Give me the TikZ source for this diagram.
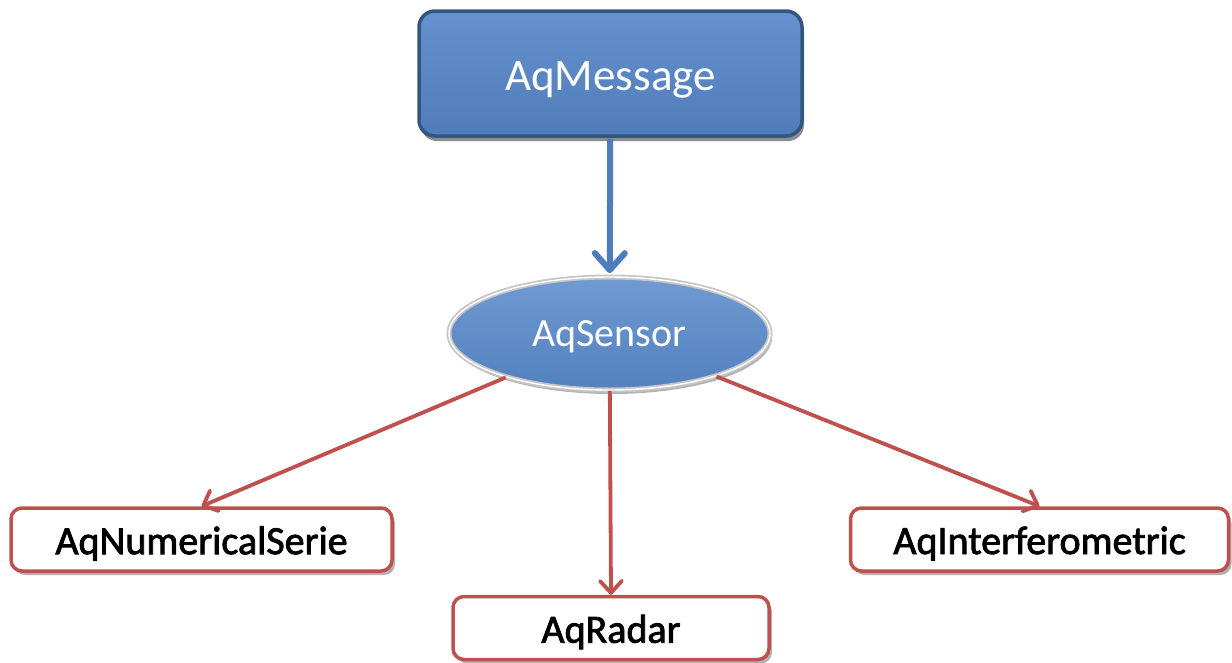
\documentclass[tikz,border=0pt]{standalone}
\usepackage{fontspec}
\setmainfont{Carlito}
\newfontfamily\childfont{Carlito}[FakeBold=2]
\usetikzlibrary{arrows.meta,shapes.geometric,shadows}
\definecolor{msgblue}{HTML}{5788C9}
\definecolor{msgedge}{HTML}{34557F}
\definecolor{arrowblue}{HTML}{4E7DBE}
\definecolor{linkred}{HTML}{C0504D}
% lower the printed text without changing the box size used for centring
\newcommand{\lowertext}[2]{\raisebox{-#1}[\height][\depth]{#2}}
\tikzset{
  parentbox/.style={draw=msgedge, line width=3.5pt, rounded corners=16pt,
    top color=msgblue!92!white, bottom color=msgblue!92!black,
    minimum width=383pt, minimum height=125pt, text=white,
    font=\fontsize{45}{54}\selectfont,
    drop shadow={shadow xshift=2pt, shadow yshift=-5pt, opacity=0.45, fill=black}},
  sensornode/.style={ellipse, draw=gray!45, line width=1.8pt,
    double=white, double distance=1.4pt,
    top color=msgblue!85!white, bottom color=msgblue!95!black,
    minimum width=321pt, minimum height=113pt, inner sep=0pt, text=white,
    font=\fontsize{40}{48}\selectfont,
    drop shadow={shadow xshift=2pt, shadow yshift=-4pt, opacity=0.3, fill=black}},
  childbox/.style={draw=linkred, line width=3.5pt, rounded corners=11pt, fill=white,
    minimum height=63pt, text=black, inner sep=0pt,
    font=\childfont\fontsize{40}{48}\selectfont,
    drop shadow={shadow xshift=3pt, shadow yshift=-4pt, opacity=0.3, fill=black}},
  bluelink/.style={draw=arrowblue, line width=6pt,
    -{Straight Barb[length=17pt, width=30pt, line width=6pt, round]}},
  redlink/.style={draw=linkred, line width=3.8pt,
    -{Straight Barb[length=12pt, width=22pt, line width=3.8pt, round]}},
}
\begin{document}
\begin{tikzpicture}[x=1pt, y=-1pt]
  \useasboundingbox (0,0) rectangle (1232,662);
  \fill[white] (0,0) rectangle (1232,662);

  \node[parentbox] (msg) at (610.5,73.5) {\lowertext{6pt}{AqMessage}};
  \node[sensornode] (sensor) at (609.5,333.5) {\lowertext{3pt}{AqSensor}};

  \node[childbox, minimum width=381pt] (num) at (201.5,539.5) {\lowertext{4pt}{AqNumericalSerie}};
  \node[childbox, minimum width=316pt] (radar) at (611,628) {\lowertext{4pt}{AqRadar}};
  \node[childbox, minimum width=378pt] (interf) at (1039.5,539.5) {\lowertext{4pt}{AqInterferometric}};

  \draw[bluelink, shorten <=1pt, shorten >=3pt] (msg) -- (sensor);
  \draw[redlink] (sensor) -- (num.north);
  \draw[redlink] (sensor) -- (radar.north);
  \draw[redlink] (sensor) -- (interf.north);
\end{tikzpicture}
\end{document}
